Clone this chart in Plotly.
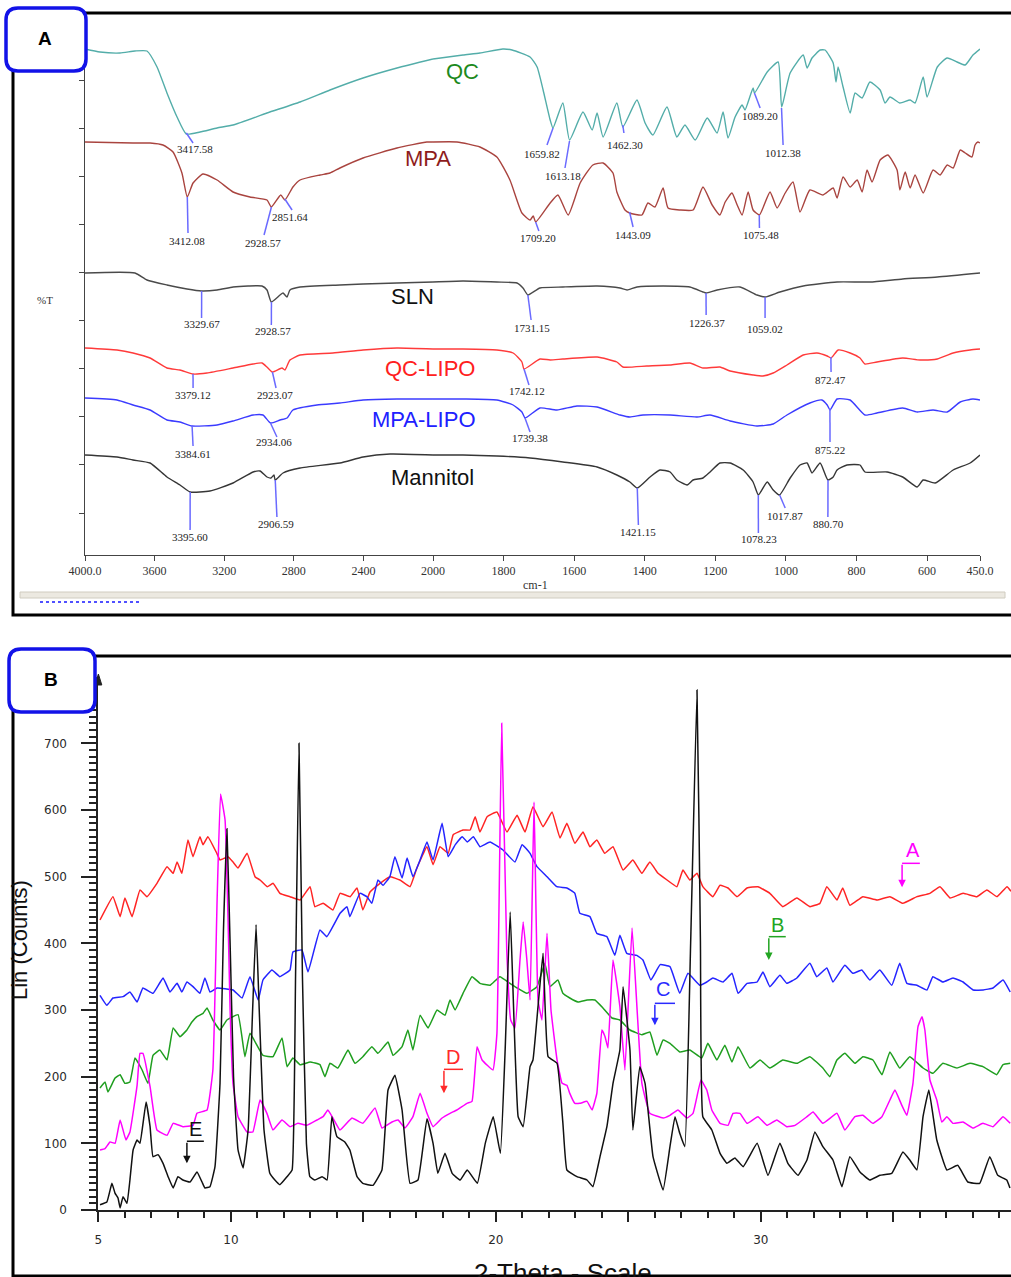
import plotly.graph_objects as go

# ---------------- Panel A : FTIR spectra (wavenumber cm-1, %T arbitrary units) ----------------
QC_WN = [4000, 3914, 3799, 3713, 3644, 3586, 3529, 3471, 3418, 3339,
         3241, 3149, 2954, 2764, 2592, 2402, 2207, 2000, 1915, 1867,
         1802, 1776, 1725, 1705, 1688, 1668, 1660, 1632, 1613, 1575,
         1549, 1535, 1518, 1479, 1462, 1422, 1399, 1377, 1337, 1309,
         1286, 1257, 1223, 1195, 1178, 1164, 1144, 1124, 1116, 1093,
         1089, 1053, 1022, 1012, 988, 951, 940, 926, 903, 889,
         866, 858, 852, 838, 818, 804, 784, 762, 733, 719,
         705, 677, 648, 634, 611, 600, 571, 543, 515, 492,
         470, 450]
QC_T = [506, 503, 502, 504, 504, 488, 462, 438, 421, 423,
        427, 430, 442, 453, 465, 477, 487, 496, 500, 502,
        506, 505, 498, 488, 465, 435, 427, 452, 415, 443,
        425, 442, 418, 452, 428, 455, 432, 420, 448, 418,
        430, 415, 437, 422, 443, 417, 438, 450, 445, 467,
        462, 483, 493, 448, 482, 500, 487, 497, 505, 505,
        492, 473, 488, 468, 442, 462, 457, 473, 465, 452,
        458, 452, 455, 452, 478, 458, 488, 497, 493, 490,
        500, 506]

MPA_WN = [4000, 3724, 3626, 3552, 3494, 3443, 3412, 3379, 3322, 3241,
          3149, 3052, 2954, 2929, 2875, 2851, 2805, 2764, 2649, 2592,
          2535, 2402, 2207, 2035, 2000, 1932, 1867, 1819, 1782, 1748,
          1725, 1716, 1709, 1668, 1646, 1617, 1583, 1547, 1518, 1490,
          1479, 1456, 1443, 1408, 1391, 1371, 1348, 1334, 1300, 1263,
          1235, 1209, 1187, 1172, 1153, 1138, 1124, 1107, 1093, 1075,
          1045, 1025, 1002, 980, 960, 932, 895, 866, 855, 838,
          818, 798, 784, 770, 756, 733, 711, 685, 677, 662,
          648, 634, 611, 583, 563, 543, 526, 506, 492, 473,
          464, 456, 450]
MPA_T = [413, 412, 412, 410, 403, 382, 358, 372, 381, 375,
         363, 358, 355, 348, 360, 355, 368, 375, 380, 382,
         387, 397, 407, 413, 413, 413, 408, 398, 375, 342,
         335, 339, 333, 352, 360, 340, 372, 390, 392, 382,
         363, 345, 342, 340, 352, 348, 367, 347, 345, 345,
         368, 350, 340, 353, 362, 350, 340, 363, 345, 340,
         363, 347, 362, 373, 343, 365, 360, 367, 357, 378,
         368, 375, 363, 385, 373, 395, 400, 385, 365, 383,
         367, 380, 362, 385, 380, 390, 387, 405, 402, 398,
         410, 413, 412]

SLN_WN = [4000, 3713, 3644, 3529, 3414, 3330, 3241, 3149, 3063, 2983,
          2954, 2929, 2879, 2862, 2839, 2822, 2764, 2535, 2402, 2207,
          2000, 1915, 1819, 1762, 1745, 1731, 1697, 1632, 1535, 1470,
          1450, 1422, 1348, 1272, 1235, 1226, 1195, 1130, 1082, 1059,
          1017, 951, 855, 762, 669, 571, 450]
SLN_T = [282, 282, 275, 270, 266, 264, 265, 268, 269, 269,
         265, 253, 260, 262, 258, 265, 268, 270, 271, 272,
         273, 274, 273, 272, 267, 260, 267, 268, 269, 267,
         265, 268, 269, 268, 263, 262, 265, 268, 260, 258,
         263, 269, 273, 273, 276, 278, 282]

QCL_WN = [4000, 3816, 3724, 3626, 3529, 3454, 3379, 3299, 3149, 3034,
          2983, 2954, 2923, 2868, 2851, 2822, 2764, 2575, 2402, 2207,
          2000, 1915, 1819, 1773, 1748, 1742, 1697, 1668, 1632, 1535,
          1479, 1462, 1394, 1328, 1272, 1235, 1187, 1158, 1093, 1065,
          1036, 997, 951, 912, 883, 872, 852, 818, 790, 776,
          742, 669, 620, 571, 526, 478, 450]
QCL_T = [207, 205, 202, 197, 187, 185, 181, 182, 187, 191,
         192, 188, 183, 187, 185, 195, 200, 202, 205, 207,
         206, 206, 205, 202, 193, 186, 196, 195, 196, 198,
         193, 188, 189, 190, 192, 187, 188, 184, 180, 179,
         182, 190, 200, 202, 199, 197, 205, 202, 197, 191,
         193, 197, 195, 196, 202, 205, 206]

MPL_WN = [4000, 3816, 3724, 3626, 3529, 3454, 3385, 3241, 3149, 3034,
          2977, 2934, 2879, 2839, 2805, 2667, 2535, 2402, 2207, 2000,
          1915, 1819, 1773, 1748, 1739, 1697, 1649, 1592, 1535, 1470,
          1442, 1405, 1328, 1252, 1215, 1158, 1082, 1036, 997, 932,
          898, 883, 875, 855, 818, 776, 742, 669, 628, 583,
          543, 506, 470, 450]
MPL_T = [157, 155, 150, 145, 135, 133, 129, 130, 134, 140,
         140, 132, 135, 137, 145, 150, 152, 155, 156, 156,
         156, 155, 150, 143, 137, 147, 145, 149, 148, 140,
         138, 140, 140, 138, 140, 134, 129, 131, 140, 152,
         155, 150, 145, 156, 155, 140, 142, 147, 143, 145,
         143, 153, 156, 155]

MAN_WN = [4000, 3816, 3724, 3626, 3529, 3454, 3396, 3282, 3149, 3034,
          2994, 2954, 2931, 2914, 2907, 2862, 2764, 2535, 2402, 2247,
          2000, 1915, 1819, 1725, 1632, 1535, 1479, 1442, 1421, 1385,
          1357, 1328, 1309, 1280, 1263, 1235, 1215, 1187, 1158, 1121,
          1093, 1078, 1053, 1036, 1018, 988, 960, 940, 926, 903,
          881, 866, 855, 827, 790, 776, 713, 669, 628, 611,
          577, 526, 478, 450]
MAN_T = [100, 98, 95, 92, 78, 70, 63, 64, 72, 83,
         84, 78, 77, 80, 75, 82, 87, 92, 98, 101,
         100, 100, 99, 97, 93, 88, 80, 73, 67, 78,
         85, 83, 75, 70, 75, 77, 83, 92, 92, 85,
         73, 60, 73, 65, 60, 77, 90, 92, 82, 92,
         75, 78, 85, 90, 90, 83, 83, 78, 68, 75,
         72, 85, 92, 100]

FTIR_NAMES = ["QC", "MPA", "SLN", "QC-LIPO", "MPA-LIPO", "Mannitol"]

# marked peaks: wavenumber and %T on the curve
PEAK_WN = [3417.58, 1659.82, 1613.18, 1462.30, 1089.20, 1012.38,
           3412.08, 2928.57, 2851.64, 1709.20, 1443.09, 1075.48,
           3329.67, 2928.57, 1731.15, 1226.37, 1059.02,
           3379.12, 2923.07, 1742.12, 872.47,
           3384.61, 2934.06, 1739.38, 875.22,
           3395.60, 2906.59, 1421.15, 1078.23, 1017.87, 880.70]
PEAK_T = [422, 427, 414, 430, 462, 447,
          358, 348, 356, 333, 343, 340,
          264, 253, 260, 262, 258,
          181, 183, 186, 198,
          129, 132, 137, 146,
          63, 75, 67, 60, 60, 75]

# ---------------- Panel B : XRD (2-theta, counts) ----------------
RED_X = [5.06, 5.55, 5.82, 6.00, 6.27, 6.57, 6.83, 7.21, 7.59, 7.82,
         7.97, 8.15, 8.38, 8.57, 8.83, 8.95, 9.13, 9.47, 9.59, 9.89,
         10.08, 10.27, 10.61, 10.91, 11.10, 11.37, 11.59, 11.85, 12.23, 12.61,
         12.80, 12.99, 13.17, 13.48, 13.85, 14.12, 14.50, 14.76, 14.98, 15.25,
         15.63, 16.00, 16.38, 16.76, 17.02, 17.40, 17.63, 17.89, 18.20, 18.39,
         18.76, 19.03, 19.22, 19.40, 19.67, 20.04, 20.42, 20.80, 21.10, 21.40,
         21.78, 22.12, 22.42, 22.68, 22.98, 23.29, 23.55, 23.81, 24.11, 24.42,
         24.80, 25.17, 25.51, 25.81, 26.12, 26.46, 26.83, 27.06, 27.32, 27.59,
         27.81, 28.19, 28.46, 28.76, 29.10, 29.48, 29.89, 30.34, 30.83, 31.36,
         31.85, 32.23, 32.49, 32.87, 33.09, 33.36, 33.85, 34.38, 34.87, 35.36,
         35.89, 36.38, 36.76, 37.14, 37.63, 38.16, 38.53, 38.91, 39.29, 39.44]
RED_Y = [435, 470, 440, 468, 440, 480, 470, 490, 515, 505,
         522, 505, 555, 530, 560, 548, 560, 535, 525, 530,
         522, 513, 535, 500, 495, 485, 490, 475, 470, 465,
         475, 485, 455, 460, 450, 475, 470, 483, 450, 477,
         490, 500, 495, 485, 513, 545, 518, 545, 535, 563,
         570, 570, 590, 567, 590, 597, 567, 592, 567, 605,
         575, 597, 558, 580, 550, 567, 545, 555, 535, 545,
         510, 525, 505, 522, 505, 495, 485, 510, 495, 505,
         485, 470, 487, 483, 470, 483, 485, 475, 455, 468,
         455, 460, 485, 465, 483, 457, 470, 465, 470, 460,
         470, 475, 485, 468, 475, 470, 480, 470, 485, 478]

BLUE_X = [5.06, 5.32, 5.55, 5.93, 6.19, 6.46, 6.68, 7.06, 7.44, 7.70,
          7.97, 8.15, 8.34, 8.57, 8.83, 9.02, 9.21, 9.48, 10.08, 10.42,
          10.72, 11.03, 11.21, 11.55, 11.85, 12.23, 12.34, 12.68, 12.91, 13.36,
          13.62, 14.12, 14.38, 14.49, 14.87, 15.13, 15.32, 15.55, 15.74, 16.00,
          16.19, 16.46, 16.65, 16.87, 17.14, 17.40, 17.63, 17.97, 18.20, 18.47,
          18.73, 18.92, 19.15, 19.40, 19.78, 20.27, 20.72, 20.99, 21.29, 21.55,
          21.93, 22.30, 22.68, 22.98, 23.17, 23.55, 23.81, 24.19, 24.49, 24.68,
          24.94, 25.32, 25.55, 25.85, 26.20, 26.57, 26.94, 27.25, 27.70, 27.96,
          28.19, 28.57, 28.91, 29.14, 29.48, 29.86, 30.08, 30.34, 30.72, 30.98,
          31.36, 31.85, 32.11, 32.49, 32.72, 33.17, 33.47, 33.81, 34.11, 34.49,
          34.94, 35.24, 35.51, 35.89, 36.27, 36.49, 36.87, 37.25, 37.63, 38.01,
          38.39, 38.76, 39.14, 39.41]
BLUE_Y = [322, 307, 318, 320, 327, 312, 333, 325, 348, 327,
          340, 327, 342, 335, 325, 348, 327, 333, 330, 318,
          350, 315, 345, 360, 350, 360, 387, 390, 357, 420,
          410, 445, 455, 440, 475, 470, 460, 495, 487, 500,
          530, 498, 528, 500, 525, 552, 525, 580, 530, 548,
          560, 552, 560, 545, 552, 540, 522, 548, 535, 515,
          500, 485, 483, 475, 445, 440, 415, 410, 382, 412,
          385, 382, 375, 345, 368, 365, 325, 355, 337, 342,
          348, 342, 355, 325, 340, 342, 357, 335, 352, 340,
          348, 370, 350, 363, 342, 367, 355, 360, 345, 360,
          337, 370, 340, 337, 330, 350, 342, 348, 342, 330,
          330, 333, 345, 327]

GREEN_X = [5.06, 5.25, 5.36, 5.63, 5.82, 6.00, 6.19, 6.38, 6.65, 6.87,
           7.06, 7.32, 7.59, 7.82, 8.08, 8.34, 8.53, 8.72, 8.95, 9.10,
           9.32, 9.59, 9.85, 10.27, 10.53, 10.72, 11.21, 11.59, 11.93, 12.12,
           12.34, 12.61, 12.99, 13.36, 13.55, 13.74, 14.04, 14.42, 14.68, 14.98,
           15.32, 15.55, 15.93, 16.12, 16.46, 16.68, 16.87, 17.14, 17.44, 17.78,
           18.08, 18.27, 18.46, 18.76, 19.10, 19.40, 19.78, 20.15, 20.53, 20.80,
           21.17, 21.55, 21.85, 22.04, 22.34, 22.53, 22.79, 23.10, 23.44, 23.74,
           24.04, 24.38, 24.68, 25.06, 25.51, 25.81, 26.08, 26.31, 26.57, 26.94,
           27.32, 27.77, 28.00, 28.34, 28.64, 28.91, 29.14, 29.59, 29.97, 30.34,
           30.83, 31.36, 31.85, 32.34, 32.60, 32.87, 33.17, 33.55, 33.85, 34.23,
           34.57, 34.87, 35.24, 35.62, 36.12, 36.49, 36.87, 37.40, 37.89, 38.38,
           38.90, 39.14, 39.41]
GREEN_Y = [183, 192, 177, 198, 203, 190, 192, 228, 210, 190,
           232, 240, 225, 273, 260, 270, 282, 290, 295, 303,
           285, 270, 285, 293, 230, 265, 232, 230, 258, 215,
           228, 218, 222, 218, 200, 220, 213, 240, 220, 230,
           245, 235, 252, 232, 245, 270, 240, 292, 273, 300,
           292, 315, 300, 325, 350, 340, 337, 350, 340, 333,
           325, 335, 370, 335, 345, 325, 318, 312, 315, 315,
           303, 288, 285, 270, 263, 267, 232, 255, 250, 237,
           240, 228, 250, 225, 247, 222, 245, 213, 225, 213,
           225, 220, 230, 213, 200, 225, 235, 220, 230, 225,
           203, 237, 213, 230, 213, 205, 220, 213, 220, 215,
           203, 218, 220]

MAG_X = [5.06, 5.25, 5.44, 5.63, 5.82, 6.04, 6.19, 6.46, 6.57, 6.68,
         6.95, 7.21, 7.59, 7.82, 8.19, 8.57, 8.72, 9.10, 9.32, 9.48,
         9.61, 9.78, 9.89, 9.97, 10.08, 10.27, 10.61, 10.83, 11.10, 11.36,
         11.59, 11.93, 12.23, 12.53, 12.87, 13.25, 13.48, 13.66, 13.85, 14.12,
         14.57, 14.98, 15.44, 15.70, 16.08, 16.31, 16.57, 16.87, 17.14, 17.40,
         17.63, 17.97, 18.27, 18.53, 18.91, 19.10, 19.29, 19.48, 19.89, 20.04,
         20.22, 20.41, 20.56, 20.72, 20.91, 21.03, 21.17, 21.29, 21.44, 21.59,
         21.74, 21.93, 22.08, 22.31, 22.50, 22.68, 22.79, 22.98, 23.17, 23.44,
         23.63, 23.81, 24.00, 24.12, 24.23, 24.42, 24.68, 24.87, 25.14, 25.33,
         25.51, 25.81, 26.31, 26.57, 26.87, 27.21, 27.44, 27.74, 27.96, 28.15,
         28.46, 28.76, 28.95, 29.21, 29.48, 29.89, 30.23, 30.60, 30.98, 31.29,
         31.74, 31.97, 32.34, 32.87, 33.17, 33.55, 33.85, 34.23, 34.57, 34.87,
         35.06, 35.32, 35.51, 35.74, 35.93, 36.08, 36.19, 36.38, 36.64, 36.83,
         37.02, 37.25, 37.63, 38.01, 38.38, 38.76, 39.14, 39.41]
MAG_Y = [90, 92, 102, 100, 135, 105, 117, 187, 235, 235,
         185, 120, 112, 130, 125, 127, 145, 150, 210, 465,
         624, 585, 440, 300, 190, 140, 117, 117, 165, 145,
         120, 135, 125, 130, 127, 135, 140, 150, 138, 120,
         138, 130, 153, 123, 132, 135, 123, 140, 175, 145,
         125, 138, 145, 150, 160, 163, 245, 225, 210, 265,
         730, 390, 285, 273, 375, 432, 375, 315, 612, 315,
         285, 415, 300, 225, 190, 187, 175, 160, 160, 163,
         150, 175, 270, 260, 243, 375, 305, 210, 423, 300,
         190, 145, 138, 142, 150, 138, 145, 195, 180, 150,
         130, 127, 145, 145, 130, 140, 127, 135, 125, 127,
         140, 147, 130, 145, 120, 140, 142, 130, 140, 165,
         180, 157, 142, 190, 275, 290, 270, 195, 165, 132,
         140, 130, 132, 123, 130, 125, 140, 130]

BLK_X = [5.06, 5.32, 5.51, 5.63, 5.74, 5.82, 5.93, 6.08, 6.19, 6.31,
         6.46, 6.57, 6.80, 6.95, 7.06, 7.25, 7.44, 7.63, 7.82, 8.00,
         8.19, 8.46, 8.72, 8.91, 9.02, 9.21, 9.40, 9.59, 9.72, 9.85,
         9.97, 10.10, 10.27, 10.46, 10.65, 10.82, 10.95, 11.07, 11.25, 11.47,
         11.66, 11.85, 12.12, 12.31, 12.44, 12.57, 12.70, 12.85, 12.98, 13.17,
         13.44, 13.63, 13.81, 14.00, 14.30, 14.49, 14.76, 14.98, 15.36, 15.70,
         15.93, 16.19, 16.46, 16.76, 17.06, 17.40, 17.63, 17.81, 18.08, 18.35,
         18.65, 18.92, 19.30, 19.60, 19.90, 20.17, 20.35, 20.54, 20.84, 21.03,
         21.29, 21.40, 21.59, 21.78, 21.97, 22.31, 22.53, 22.68, 23.06, 23.44,
         23.66, 23.93, 24.19, 24.42, 24.68, 24.80, 25.06, 25.17, 25.43, 25.63,
         25.93, 26.31, 26.57, 26.76, 26.94, 27.13, 27.35, 27.59, 27.72, 27.81,
         28.15, 28.46, 28.72, 29.02, 29.33, 29.86, 30.27, 30.72, 31.02, 31.40,
         31.74, 32.04, 32.34, 32.72, 33.06, 33.36, 33.74, 34.11, 34.49, 34.94,
         35.36, 35.62, 35.89, 36.12, 36.34, 36.64, 37.02, 37.43, 37.81, 38.26,
         38.64, 38.94, 39.28, 39.40]
BLK_Y = [8, 12, 40, 25, 18, 3, 20, 10, 45, 90,
         105, 100, 162, 125, 80, 83, 70, 50, 33, 50,
         45, 42, 57, 42, 33, 35, 65, 190, 420, 572,
         400, 200, 90, 63, 120, 300, 428, 300, 120, 55,
         45, 38, 50, 60, 350, 700, 350, 100, 50, 45,
         50, 45, 140, 110, 102, 90, 50, 40, 37, 60,
         180, 202, 150, 40, 45, 137, 100, 55, 85, 55,
         45, 60, 40, 100, 140, 85, 240, 447, 140, 125,
         215, 225, 305, 385, 230, 220, 130, 60, 50, 45,
         35, 80, 125, 190, 240, 335, 240, 120, 215, 190,
         80, 30, 95, 140, 115, 95, 400, 780, 400, 140,
         120, 85, 70, 78, 65, 100, 52, 100, 70, 52,
         75, 117, 95, 75, 35, 80, 57, 45, 52, 55,
         87, 75, 60, 140, 180, 105, 60, 67, 42, 40,
         80, 52, 45, 33]

XRD_LETTERS = ["A", "B", "C", "D", "E"]
Y_TICKS_B = [0, 100, 200, 300, 400, 500, 600, 700]

# ---------------- helpers ----------------
W, H = 1011, 1277


def fx(p):
    return p / W


def fy(p):
    return 1 - p / H


def xref_for(wn):
    return "x" if wn >= 2000 else "x3"


def rrect(x0, y0, x1, y1, r):
    return (f"M {fx(x0 + r)},{fy(y0)} L {fx(x1 - r)},{fy(y0)} "
            f"Q {fx(x1)},{fy(y0)} {fx(x1)},{fy(y0 + r)} L {fx(x1)},{fy(y1 - r)} "
            f"Q {fx(x1)},{fy(y1)} {fx(x1 - r)},{fy(y1)} L {fx(x0 + r)},{fy(y1)} "
            f"Q {fx(x0)},{fy(y1)} {fx(x0)},{fy(y1 - r)} L {fx(x0)},{fy(y0 + r)} "
            f"Q {fx(x0)},{fy(y0)} {fx(x0 + r)},{fy(y0)} Z")


def ptext(x, y, text, size, color, family="Liberation Sans, Arial", angle=0):
    return dict(x=fx(x), y=fy(y), xref="paper", yref="paper", text=text, showarrow=False,
                xanchor="center", yanchor="middle", textangle=angle,
                font=dict(family=family, size=size, color=color))


fig = go.Figure()

ftir = [(QC_WN, QC_T, "#53ada9"), (MPA_WN, MPA_T, "#a9443f"), (SLN_WN, SLN_T, "#4a4a4a"),
        (QCL_WN, QCL_T, "#ff3a3a"), (MPL_WN, MPL_T, "#3b3bff"), (MAN_WN, MAN_T, "#363636")]
for wn, t, col in ftir:
    hx = [w for w in wn if w >= 2000]
    hy = [v for w, v in zip(wn, t) if w >= 2000]
    lx = [w for w in wn if w <= 2000]
    ly = [v for w, v in zip(wn, t) if w <= 2000]
    ln = dict(color=col, width=1.4, shape="spline", smoothing=0.5)
    fig.add_trace(go.Scatter(x=hx, y=hy, xaxis="x", yaxis="y", mode="lines", line=ln,
                             showlegend=False, hoverinfo="skip"))
    fig.add_trace(go.Scatter(x=lx, y=ly, xaxis="x3", yaxis="y", mode="lines", line=ln,
                             showlegend=False, hoverinfo="skip"))

xrd = [(RED_X, RED_Y, "#ff2424"), (BLUE_X, BLUE_Y, "#2424ff"), (GREEN_X, GREEN_Y, "#1f9e1f"),
       (MAG_X, MAG_Y, "#ff00ff"), (BLK_X, BLK_Y, "#111111")]
for x, y, col in xrd:
    fig.add_trace(go.Scatter(x=x, y=y, xaxis="x2", yaxis="y2", mode="lines",
                             line=dict(color=col, width=1.5, shape="spline", smoothing=0.3),
                             showlegend=False, hoverinfo="skip"))

shapes = []
annotations = []

# peak leader lines + labels (panel A)
peak_layout = [  # leader end (wn, %T), label centre (wn, %T)
    (3379, 412, 3368, 406), (1677, 410, 1691, 401), (1626, 387, 1632, 379),
    (1459, 422, 1456, 410), (1073, 447, 1073, 439), (1008, 410, 1008, 402),
    (3408, 322, 3414, 314), (2971, 320, 2977, 312), (2810, 345, 2822, 338),
    (1700, 324, 1702, 317), (1433, 328, 1433, 320), (1075, 327, 1070, 320),
    (3330, 237, 3330, 231), (2929, 230, 2920, 224), (1722, 235, 1719, 227),
    (1226, 240, 1223, 232), (1059, 237, 1059, 226),
    (3379, 167, 3379, 160), (2902, 167, 2908, 160), (1728, 170, 1734, 164),
    (872, 183, 875, 175),
    (3379, 109, 3379, 101), (2897, 118, 2914, 113), (1725, 123, 1725, 117),
    (875, 113, 875, 105),
    (3396, 25, 3397, 18), (2897, 38, 2903, 31), (1418, 30, 1418, 23),
    (1078, 22, 1076, 16), (1002, 47, 1002, 39), (881, 38, 878, 31),
]
for wn, tv, (ew, et, tw, tt) in zip(PEAK_WN, PEAK_T, peak_layout):
    shapes.append(dict(type="line", xref=xref_for(wn), yref="y", x0=wn, y0=tv, x1=ew, y1=et,
                       line=dict(color="#6a6aff", width=1.5), layer="above"))
    annotations.append(dict(x=tw, y=tt, xref=xref_for(tw), yref="y", text=f"{wn:.2f}",
                            showarrow=False, xanchor="center", yanchor="middle",
                            font=dict(family="Liberation Serif", size=11, color="#222")))

# spectrum names
name_pos = [(462, 71, "#1d8a1d"), (428, 158, "#8e1c1c"), (412, 297, "#111111"),
            (430, 369, "#ff2020"), (424, 420, "#2020ff"), (432, 477, "#111111")]
for name, (px_, py_, col) in zip(FTIR_NAMES, name_pos):
    annotations.append(ptext(px_, py_, name, 22, col))

annotations += [
    ptext(45, 300, "%T", 11, "#333", family="Liberation Serif"),
    ptext(535, 585, "cm-1", 12, "#333", family="Liberation Serif"),
    ptext(19, 940, "Lin (Counts)", 22, "#111", angle=-90),
    ptext(563, 1273, "2-Theta - Scale", 26, "#111"),
]

# panel frames
shapes.append(dict(type="rect", xref="paper", yref="paper", x0=fx(13), y0=fy(13), x1=fx(1030), y1=fy(615),
                   line=dict(color="black", width=3), layer="above"))
shapes.append(dict(type="rect", xref="paper", yref="paper", x0=fx(13), y0=fy(656), x1=fx(1030), y1=fy(1276),
                   line=dict(color="black", width=3), layer="above"))
# scroll bar strip of the spectrometer window
shapes.append(dict(type="rect", xref="paper", yref="paper", x0=fx(20), y0=fy(592), x1=fx(1005), y1=fy(598),
                   fillcolor="#ece9e1", line=dict(color="#d0ccc0", width=1), layer="above"))
shapes.append(dict(type="line", xref="paper", yref="paper", x0=fx(40), y0=fy(602), x1=fx(140), y1=fy(602),
                   line=dict(color="#5050ff", width=2, dash="dot"), layer="above"))
# arrowhead on top of XRD y axis
shapes.append(dict(type="path", xref="paper", yref="paper",
                   path=f"M {fx(95)},{fy(685)} L {fx(98.4)},{fy(674)} L {fx(101.8)},{fy(685)} Z",
                   fillcolor="#222", line=dict(color="#222", width=1), layer="above"))
# panel letter boxes
for (x0, y0, x1, y1), letter in zip([(6, 8, 86, 71), (9, 649, 95, 712)], ["A", "B"]):
    shapes.append(dict(type="path", xref="paper", yref="paper", path=rrect(x0, y0, x1, y1, 12),
                       fillcolor="white", line=dict(color="#1212e8", width=3.5), layer="above"))
    annotations.append(ptext((x0 + x1) / 2 - 1, (y0 + y1) / 2 - 1, f"<b>{letter}</b>", 19, "black"))

# XRD sample tags: tip (2θ, counts), bar height, bar end, text centre
tag_layout = [(35.33, 484, 520, 36.00, 35.74, 540, "#ff00ff"),
              (30.30, 375, 410, 30.94, 30.62, 428, "#22a522"),
              (26.00, 277, 310, 26.76, 26.32, 331, "#2a2aff"),
              (18.04, 175, 211, 18.76, 18.38, 230, "#ff2a2a"),
              (8.34, 70, 103, 8.98, 8.68, 121, "#111111")]
for letter, (xt, yt, yb, xe, xtx, ytx, col) in zip(XRD_LETTERS, tag_layout):
    shapes.append(dict(type="line", xref="x2", yref="y2", x0=xt, y0=yb, x1=xe, y1=yb,
                       line=dict(color=col, width=1.5)))
    annotations.append(dict(x=xt, y=yt, xref="x2", yref="y2", ax=xt, ay=yb, axref="x2", ayref="y2",
                            text="", showarrow=True, arrowhead=2, arrowsize=1, arrowwidth=1.5,
                            arrowcolor=col))
    annotations.append(dict(x=xtx, y=ytx, xref="x2", yref="y2", text=letter, showarrow=False,
                            xanchor="center", yanchor="middle",
                            font=dict(family="Liberation Sans, Arial", size=20, color=col)))

axA = dict(showline=True, linecolor="#444", linewidth=1, ticks="outside", ticklen=5, tickcolor="#444",
           tickfont=dict(family="Liberation Serif", size=12, color="#333"), showgrid=False,
           zeroline=False, automargin=False)
axB = dict(showline=True, linecolor="#222", linewidth=2, ticks="outside", tickcolor="#222", tickwidth=2,
           tickfont=dict(family="DejaVu Sans", size=12, color="#2a2a2a"), showgrid=False,
           zeroline=False, automargin=False)

fig.update_layout(
    template="none",
    width=W, height=H, autosize=False,
    margin=dict(l=0, r=0, t=0, b=0, pad=0, autoexpand=False),
    paper_bgcolor="white", plot_bgcolor="white", showlegend=False,
    xaxis=dict(axA, domain=[fx(85), fx(433)], range=[4000, 2000], anchor="y",
               tickmode="array", tickvals=[4000, 3600, 3200, 2800, 2400],
               ticktext=["4000.0", "3600", "3200", "2800", "2400"]),
    xaxis3=dict(axA, domain=[fx(433), fx(980)], range=[2000, 450], anchor="y",
                tickmode="array", tickvals=[2000, 1800, 1600, 1400, 1200, 1000, 800, 600, 450],
                ticktext=["2000", "1800", "1600", "1400", "1200", "1000", "800", "600", "450.0"]),
    yaxis=dict(axA, domain=[fy(555), fy(45)], range=[0, 510], anchor="x",
               tickmode="linear", tick0=42, dtick=48.1, showticklabels=False),
    xaxis2=dict(axB, domain=[fx(98.4), 1], range=[5, 39.44], anchor="y2", ticklen=10,
                tickmode="array", tickvals=[5, 10, 15, 20, 25, 30, 35],
                ticktext=["5", "10", "", "20", "", "30", ""], ticklabelstandoff=8,
                minor=dict(ticks="outside", tickmode="linear", tick0=5, dtick=1, ticklen=6,
                           tickwidth=2, tickcolor="#222")),
    yaxis2=dict(axB, domain=[fy(1210), fy(677)], range=[0, 799.5], anchor="x2", ticklen=15,
                tickmode="array", tickvals=Y_TICKS_B, ticktext=[str(v) for v in Y_TICKS_B],
                ticklabelstandoff=12,
                minor=dict(ticks="outside", tickmode="linear", tick0=0, dtick=10, ticklen=7,
                           tickwidth=1.6, tickcolor="#222")),
    shapes=shapes, annotations=annotations,
)

fig.write_html("out.html")
